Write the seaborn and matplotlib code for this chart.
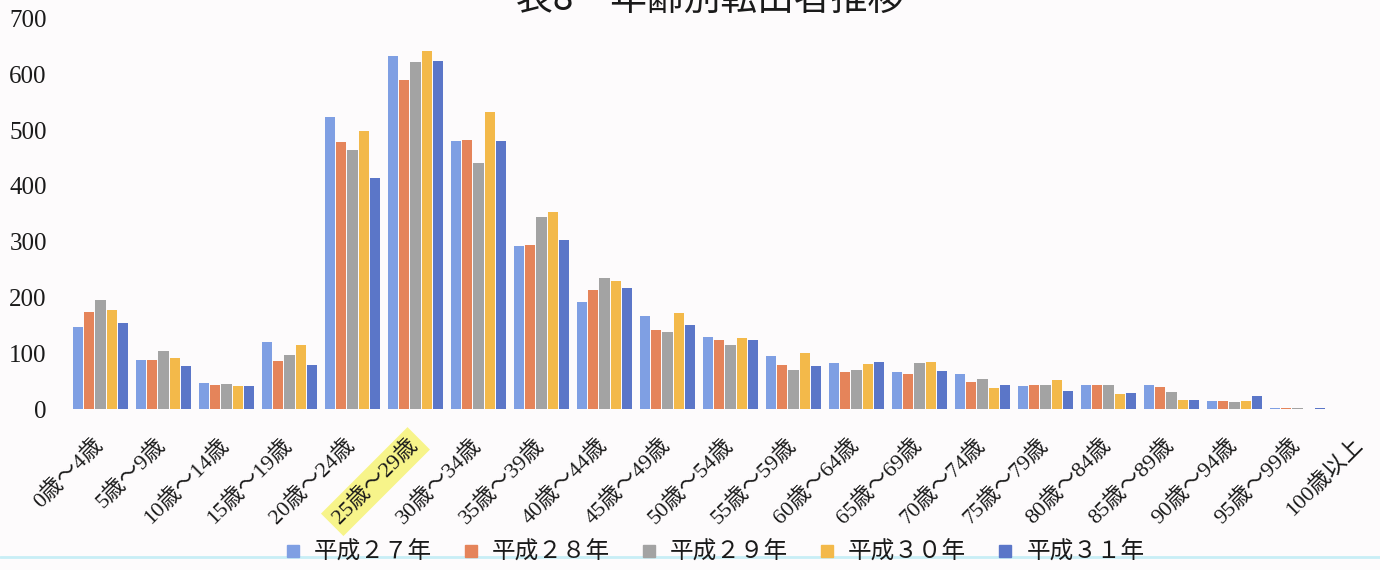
import matplotlib
matplotlib.use("Agg")
import matplotlib.pyplot as plt
import matplotlib.transforms as mtransforms
from matplotlib.lines import Line2D
import pandas as pd
import seaborn as sns

# Age groups (x axis)
categories = ["0歳～4歳", "5歳～9歳", "10歳～14歳", "15歳～19歳", "20歳～24歳",
              "25歳～29歳", "30歳～34歳", "35歳～39歳", "40歳～44歳", "45歳～49歳",
              "50歳～54歳", "55歳～59歳", "60歳～64歳", "65歳～69歳", "70歳～74歳",
              "75歳～79歳", "80歳～84歳", "85歳～89歳", "90歳～94歳", "95歳～99歳",
              "100歳以上"]

# Series names (legend)
years = ["平成２７年", "平成２８年", "平成２９年", "平成３０年", "平成３１年"]

# Number of people moving out, per year and age group
h27 = [147, 88, 47, 121, 524, 632, 481, 293, 192, 167, 129, 95, 82, 67, 63, 41, 44, 44, 15, 2, 0]
h28 = [175, 88, 44, 86, 478, 589, 483, 294, 214, 142, 124, 79, 66, 63, 48, 43, 44, 40, 15, 2, 0]
h29 = [195, 104, 46, 97, 464, 622, 442, 344, 236, 138, 116, 71, 71, 82, 55, 44, 44, 31, 13, 2, 0]
h30 = [177, 92, 42, 115, 499, 642, 533, 354, 230, 173, 127, 100, 81, 84, 38, 52, 27, 17, 14, 1, 0]
h31 = [155, 78, 42, 79, 414, 624, 481, 304, 218, 151, 124, 78, 84, 69, 44, 33, 30, 17, 23, 3, 0]

yticks = [0, 100, 200, 300, 400, 500, 600, 700]
title = "表8　年齢別転出者推移"

colors = ["#7f9fe3", "#e5845a", "#a3a3a3", "#f3b94a", "#5b76c8"]
bg = "#fdfbfc"

series = [h27, h28, h29, h30, h31]
rows = []
for year, vals in zip(years, series):
    for cat, v in zip(categories, vals):
        rows.append({"age": cat, "year": year, "count": v})
df = pd.DataFrame(rows)

sns.set_theme(style="white")
plt.rcParams["font.family"] = ["Liberation Serif", "Noto Sans CJK JP"]

fig = plt.figure(figsize=(13.8, 5.7), dpi=100, facecolor=bg)
ax = fig.add_axes([0.050, 0.282, 0.9587, 0.6856])
ax.set_facecolor(bg)

sns.barplot(data=df, x="age", y="count", hue="year", order=categories,
            hue_order=years, palette=colors, saturation=1, width=0.89,
            gap=0.1, linewidth=0, errorbar=None, legend=False, ax=ax)

ax.set_ylim(0, 700)
ax.set_xlim(-0.5, 20.5)
ax.set_yticks(yticks)
ax.set_yticklabels([str(t) for t in yticks])
ax.tick_params(axis="y", length=0, pad=16, labelsize=18, labelcolor="#1a1a1a")
ax.set_xlabel("")
ax.set_ylabel("")
sns.despine(ax=ax, left=True, bottom=True)

ax.set_xticks(range(len(categories)))
ax.set_xticklabels(categories, rotation=45, ha="right", va="top",
                   rotation_mode="anchor", fontsize=16, color="#1a1a1a")
ax.tick_params(axis="x", length=0, pad=18.5)
shift = mtransforms.ScaledTranslation(-8 / 100, 0, fig.dpi_scale_trans)
for lbl in ax.get_xticklabels():
    lbl.set_transform(lbl.get_transform() + shift)
# marker highlight on the 25-29 label
ax.get_xticklabels()[5].set_bbox(dict(facecolor="#f7f48a", edgecolor="none", pad=4))

# thin cyan rule near the bottom of the page
fig.add_artist(Line2D([0, 1], [1 - 557 / 570] * 2, transform=fig.transFigure,
                      color="#c8eef6", lw=2, zorder=0))

handles = [Line2D([], [], marker="s", linestyle="none", markersize=8.5,
                  color=c) for c in colors]
fig.legend(handles, years, loc="center", bbox_to_anchor=(715 / 1380, 1 - 553 / 570),
           ncol=5, frameon=False, fontsize=17, handlelength=0.6,
           handletextpad=0.6, columnspacing=1.34, labelcolor="#1a1a1a")

fig.text(710 / 1380, 1 - 10 / 570, title, ha="center", va="baseline",
         fontsize=26.5, family=["Noto Sans CJK JP"], color="#1a1a1a")

fig.savefig("out.png", dpi=100, facecolor=bg)
